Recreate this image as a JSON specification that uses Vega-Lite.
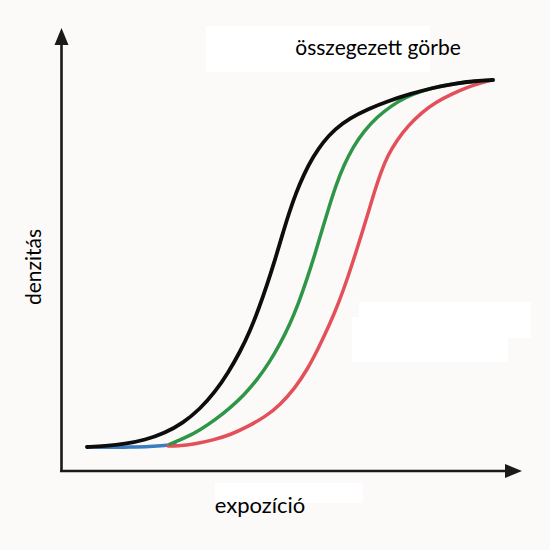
{
  "$schema": "https://vega.github.io/schema/vega-lite/v6.json",
  "width": 550,
  "height": 550,
  "autosize": {"type": "fit", "contains": "padding"},
  "padding": 0,
  "background": "#fbfaf8",
  "config": {"view": {"stroke": null}},
  "datasets": {
    "curves": [
      {"series": "blue", "x": 87, "y": 103},
      {"series": "blue", "x": 110, "y": 102.5},
      {"series": "blue", "x": 130, "y": 103},
      {"series": "blue", "x": 150, "y": 103.5},
      {"series": "blue", "x": 165, "y": 104.5},
      {"series": "blue", "x": 175, "y": 106},

      {"series": "red", "x": 168, "y": 104},
      {"series": "red", "x": 177, "y": 104},
      {"series": "red", "x": 195, "y": 106},
      {"series": "red", "x": 213, "y": 110},
      {"series": "red", "x": 230, "y": 115},
      {"series": "red", "x": 247, "y": 123},
      {"series": "red", "x": 265, "y": 133},
      {"series": "red", "x": 280, "y": 145},
      {"series": "red", "x": 295, "y": 162},
      {"series": "red", "x": 307, "y": 180},
      {"series": "red", "x": 318, "y": 201},
      {"series": "red", "x": 329, "y": 224},
      {"series": "red", "x": 339, "y": 248},
      {"series": "red", "x": 348, "y": 273},
      {"series": "red", "x": 356, "y": 298},
      {"series": "red", "x": 363, "y": 320},
      {"series": "red", "x": 369, "y": 340},
      {"series": "red", "x": 375, "y": 360},
      {"series": "red", "x": 381, "y": 378},
      {"series": "red", "x": 388, "y": 395},
      {"series": "red", "x": 397, "y": 410},
      {"series": "red", "x": 408, "y": 424},
      {"series": "red", "x": 421, "y": 437},
      {"series": "red", "x": 436, "y": 448},
      {"series": "red", "x": 452, "y": 456},
      {"series": "red", "x": 468, "y": 463},
      {"series": "red", "x": 482, "y": 467.5},
      {"series": "red", "x": 493, "y": 470},

      {"series": "green", "x": 170, "y": 106},
      {"series": "green", "x": 185, "y": 112},
      {"series": "green", "x": 200, "y": 120},
      {"series": "green", "x": 215, "y": 130},
      {"series": "green", "x": 230, "y": 142},
      {"series": "green", "x": 244, "y": 155},
      {"series": "green", "x": 257, "y": 170},
      {"series": "green", "x": 269, "y": 187},
      {"series": "green", "x": 280, "y": 206},
      {"series": "green", "x": 290, "y": 226},
      {"series": "green", "x": 299, "y": 248},
      {"series": "green", "x": 307, "y": 271},
      {"series": "green", "x": 315, "y": 296},
      {"series": "green", "x": 322, "y": 320},
      {"series": "green", "x": 329, "y": 343},
      {"series": "green", "x": 336, "y": 365},
      {"series": "green", "x": 344, "y": 385},
      {"series": "green", "x": 353, "y": 403},
      {"series": "green", "x": 364, "y": 419},
      {"series": "green", "x": 377, "y": 433},
      {"series": "green", "x": 391, "y": 444},
      {"series": "green", "x": 406, "y": 453},
      {"series": "green", "x": 422, "y": 459},
      {"series": "green", "x": 440, "y": 464},
      {"series": "green", "x": 458, "y": 467},
      {"series": "green", "x": 476, "y": 469},
      {"series": "green", "x": 493, "y": 470},

      {"series": "black", "x": 87, "y": 103},
      {"series": "black", "x": 105, "y": 104},
      {"series": "black", "x": 125, "y": 106},
      {"series": "black", "x": 145, "y": 110},
      {"series": "black", "x": 165, "y": 117},
      {"series": "black", "x": 183, "y": 127},
      {"series": "black", "x": 200, "y": 141},
      {"series": "black", "x": 215, "y": 158},
      {"series": "black", "x": 228, "y": 177},
      {"series": "black", "x": 240, "y": 198},
      {"series": "black", "x": 250, "y": 219},
      {"series": "black", "x": 259, "y": 242},
      {"series": "black", "x": 267, "y": 265},
      {"series": "black", "x": 275, "y": 290},
      {"series": "black", "x": 282, "y": 314},
      {"series": "black", "x": 289, "y": 337},
      {"series": "black", "x": 296, "y": 357},
      {"series": "black", "x": 304, "y": 376},
      {"series": "black", "x": 313, "y": 393},
      {"series": "black", "x": 323, "y": 408},
      {"series": "black", "x": 335, "y": 421},
      {"series": "black", "x": 350, "y": 432},
      {"series": "black", "x": 368, "y": 441},
      {"series": "black", "x": 388, "y": 449},
      {"series": "black", "x": 410, "y": 456},
      {"series": "black", "x": 432, "y": 462},
      {"series": "black", "x": 455, "y": 466.5},
      {"series": "black", "x": 475, "y": 469},
      {"series": "black", "x": 493, "y": 470}
    ],
    "boxes": [
      {"x": 206, "x2": 430, "y": 524, "y2": 478},
      {"x": 359, "x2": 531, "y": 248, "y2": 212},
      {"x": 352, "x2": 508, "y": 233, "y2": 188},
      {"x": 215, "x2": 363, "y": 67, "y2": 47}
    ],
    "axes": [
      {"x": 61.5, "y": 79, "x2": 61.5, "y2": 507},
      {"x": 60, "y": 79, "x2": 507, "y2": 79}
    ]
  },
  "encoding": {
    "x": {"type": "quantitative", "scale": {"domain": [0, 550], "nice": false, "zero": false}, "axis": null},
    "y": {"type": "quantitative", "scale": {"domain": [0, 550], "nice": false, "zero": false}, "axis": null}
  },
  "layer": [
    {
      "data": {"name": "boxes"},
      "mark": {"type": "rect", "color": "#ffffff"},
      "encoding": {
        "x": {"field": "x", "type": "quantitative"},
        "x2": {"field": "x2"},
        "y": {"field": "y", "type": "quantitative"},
        "y2": {"field": "y2"}
      }
    },
    {
      "data": {"values": [{"label": "összegezett görbe", "x": 378, "y": 501}]},
      "mark": {"type": "text", "font": "Lato", "fontSize": 21, "color": "#000000", "align": "center", "baseline": "middle"},
      "encoding": {
        "x": {"field": "x", "type": "quantitative"},
        "y": {"field": "y", "type": "quantitative"},
        "text": {"field": "label"}
      }
    },
    {
      "data": {"values": [{"label": "expozíció", "x": 260, "y": 44}]},
      "mark": {"type": "text", "font": "Lato", "fontSize": 22, "color": "#000000", "align": "center", "baseline": "middle"},
      "encoding": {
        "x": {"field": "x", "type": "quantitative"},
        "y": {"field": "y", "type": "quantitative"},
        "text": {"field": "label"}
      }
    },
    {
      "data": {"values": [{"label": "denzitás", "x": 35, "y": 283}]},
      "mark": {"type": "text", "font": "Lato", "fontSize": 21, "color": "#000000", "align": "center", "baseline": "middle", "angle": 270},
      "encoding": {
        "x": {"field": "x", "type": "quantitative"},
        "y": {"field": "y", "type": "quantitative"},
        "text": {"field": "label"}
      }
    },
    {
      "data": {"name": "axes"},
      "mark": {"type": "rule", "color": "#1a1a1a", "strokeWidth": 2.6},
      "encoding": {
        "x": {"field": "x", "type": "quantitative"},
        "y": {"field": "y", "type": "quantitative"},
        "x2": {"field": "x2"},
        "y2": {"field": "y2"}
      }
    },
    {
      "data": {"values": [{"x": 61.5, "y": 505}]},
      "mark": {"type": "point", "filled": true, "opacity": 1, "color": "#1a1a1a", "size": 256, "shape": "M -0.875 0 L 0.875 0 L 0 -2.125 Z"},
      "encoding": {
        "x": {"field": "x", "type": "quantitative"},
        "y": {"field": "y", "type": "quantitative"}
      }
    },
    {
      "data": {"values": [{"x": 505, "y": 79}]},
      "mark": {"type": "point", "filled": true, "opacity": 1, "color": "#1a1a1a", "size": 256, "shape": "M 0 -0.875 L 0 0.875 L 2.125 0 Z"},
      "encoding": {
        "x": {"field": "x", "type": "quantitative"},
        "y": {"field": "y", "type": "quantitative"}
      }
    },
    {
      "data": {"name": "curves"},
      "transform": [{"filter": "datum.series === 'blue'"}],
      "mark": {"type": "line", "color": "#3a7cc0", "strokeWidth": 3.5, "interpolate": "basis", "strokeCap": "round"},
      "encoding": {
        "x": {"field": "x", "type": "quantitative"},
        "y": {"field": "y", "type": "quantitative"}
      }
    },
    {
      "data": {"name": "curves"},
      "transform": [{"filter": "datum.series === 'red'"}],
      "mark": {"type": "line", "color": "#e3505a", "strokeWidth": 3.5, "interpolate": "basis", "strokeCap": "round"},
      "encoding": {
        "x": {"field": "x", "type": "quantitative"},
        "y": {"field": "y", "type": "quantitative"}
      }
    },
    {
      "data": {"name": "curves"},
      "transform": [{"filter": "datum.series === 'green'"}],
      "mark": {"type": "line", "color": "#2f9648", "strokeWidth": 3.5, "interpolate": "basis", "strokeCap": "round"},
      "encoding": {
        "x": {"field": "x", "type": "quantitative"},
        "y": {"field": "y", "type": "quantitative"}
      }
    },
    {
      "data": {"name": "curves"},
      "transform": [{"filter": "datum.series === 'black'"}],
      "mark": {"type": "line", "color": "#0d0d0d", "strokeWidth": 3.8, "interpolate": "basis", "strokeCap": "round"},
      "encoding": {
        "x": {"field": "x", "type": "quantitative"},
        "y": {"field": "y", "type": "quantitative"}
      }
    }
  ]
}
